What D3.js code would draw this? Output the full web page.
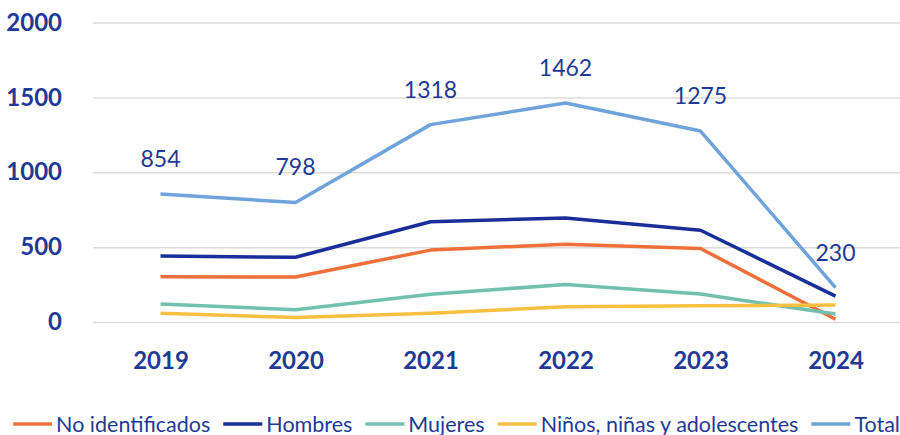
<!DOCTYPE html>
<html>
<head>
<meta charset="utf-8">
<script src="https://cdn.jsdelivr.net/npm/d3@7"></script>
<style>
  html, body { margin: 0; padding: 0; background: #fff; }
  svg { display: block; }
</style>
</head>
<body>
<div id="chart"></div>
<script>
// years on the x axis
const years = ['2019', '2020', '2021', '2022', '2023', '2024'];

// series values
const noIdentificados = [302, 300, 480, 520, 491, 18];
const hombres = [440, 432, 669, 695, 613, 173];
const mujeres = [120, 82, 185, 251, 187, 53];
const ninos = [58, 30, 58, 102, 109, 113];
const total = [854, 798, 1318, 1462, 1275, 230];

const yTicks = [0, 500, 1000, 1500, 2000];

const seriesNames = ['No identificados', 'Hombres', 'Mujeres', 'Niños, niñas y adolescentes', 'Total'];
const seriesColors = ['#f0703a', '#1a2e9a', '#72c0ae', '#f8c040', '#6ea3dc'];

(function() {
  const width = 900;
  const height = 435;
  const textColor = '#1f3a96';
  const font = 'Lato, "Open Sans", sans-serif';

  const svg = d3.select('#chart').append('svg')
    .attr('width', width)
    .attr('height', height);

  const x = d3.scalePoint()
    .domain(years)
    .range([93, 903])
    .padding(0.5);

  const y = d3.scaleLinear()
    .domain([0, 2000])
    .range([322, 22.5]);

  // gridlines + y labels
  const yAxis = svg.append('g')
    .attr('transform', 'translate(93,0)')
    .call(d3.axisLeft(y).tickValues(yTicks).tickSize(-810).tickPadding(31).tickFormat(d3.format('d')));
  yAxis.select('.domain').remove();
  yAxis.selectAll('.tick line').attr('stroke', '#dcdcdc').attr('stroke-width', 1.5);
  yAxis.selectAll('.tick text')
    .attr('fill', textColor)
    .style('font-family', font)
    .style('font-size', '24px')
    .style('font-weight', 700);

  // x labels
  const xAxis = svg.append('g')
    .attr('transform', 'translate(0,322)')
    .call(d3.axisBottom(x).tickSize(0).tickPadding(30));
  xAxis.select('.domain').remove();
  xAxis.selectAll('.tick text')
    .attr('fill', textColor)
    .style('font-family', font)
    .style('font-size', '24px')
    .style('font-weight', 700);

  const series = [noIdentificados, hombres, mujeres, ninos, total];

  const line = d3.line()
    .x((d, i) => x(years[i]))
    .y(d => y(d));

  svg.append('g')
    .selectAll('path')
    .data(series)
    .enter().append('path')
    .attr('d', d => line(d))
    .attr('fill', 'none')
    .attr('stroke', (d, i) => seriesColors[i])
    .attr('stroke-width', 3.5)
    .attr('stroke-linejoin', 'round');

  // data labels on the total line
  svg.append('g')
    .selectAll('text')
    .data(total)
    .enter().append('text')
    .attr('x', (d, i) => x(years[i]))
    .attr('y', d => y(d) - 27)
    .attr('text-anchor', 'middle')
    .attr('fill', textColor)
    .style('font-family', font)
    .style('font-size', '23px')
    .text(d => d);

  // legend, laid out left to right then centred
  const legend = svg.append('g');
  let cursor = 0;
  seriesNames.forEach((name, i) => {
    const item = legend.append('g').attr('transform', `translate(${cursor},0)`);
    item.append('line')
      .attr('x1', 0).attr('x2', 39)
      .attr('y1', 0).attr('y2', 0)
      .attr('stroke', seriesColors[i])
      .attr('stroke-width', 3.5);
    const t = item.append('text')
      .attr('x', 43)
      .attr('y', 7.5)
      .attr('fill', textColor)
      .style('font-family', font)
      .style('font-size', '21.5px')
      .text(name);
    cursor += 43 + t.node().getComputedTextLength() + 13;
  });
  const legendWidth = cursor - 13;
  legend.attr('transform', `translate(${(15 + 898 - legendWidth) / 2},424)`);
})();
</script>
</body>
</html>
